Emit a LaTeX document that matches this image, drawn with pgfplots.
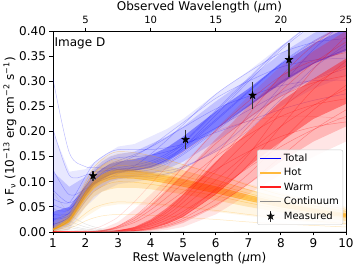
\documentclass[border=0pt]{standalone}
\usepackage{pgfplots}
\pgfplotsset{compat=1.18}
\usepackage{pgfplotstable}
\usepackage{fontspec}
\setmainfont{DejaVu Sans}

\pgfdeclareplotmark{fivestar}{%
 \pgfpathmoveto{\pgfqpoint{0pt}{\pgfplotmarksize}}%
 \pgfpathlineto{\pgfqpoint{-0.2245\pgfplotmarksize}{0.309\pgfplotmarksize}}%
 \pgfpathlineto{\pgfqpoint{-0.951\pgfplotmarksize}{0.309\pgfplotmarksize}}%
 \pgfpathlineto{\pgfqpoint{-0.363\pgfplotmarksize}{-0.118\pgfplotmarksize}}%
 \pgfpathlineto{\pgfqpoint{-0.588\pgfplotmarksize}{-0.809\pgfplotmarksize}}%
 \pgfpathlineto{\pgfqpoint{0pt}{-0.382\pgfplotmarksize}}%
 \pgfpathlineto{\pgfqpoint{0.588\pgfplotmarksize}{-0.809\pgfplotmarksize}}%
 \pgfpathlineto{\pgfqpoint{0.363\pgfplotmarksize}{-0.118\pgfplotmarksize}}%
 \pgfpathlineto{\pgfqpoint{0.951\pgfplotmarksize}{0.309\pgfplotmarksize}}%
 \pgfpathlineto{\pgfqpoint{0.2245\pgfplotmarksize}{0.309\pgfplotmarksize}}%
 \pgfpathclose\pgfusepathqfillstroke}

% Hot dust component (orange)
\pgfplotstableread{
x    h1    h2    h3    h4    h5    h6    h7    h8    h9    h10   h11
1    .004  .004  .005  .005  .005  .005  .005  .006  .006  .002  .001
1.5  .020  .022  .023  .023  .024  .025  .026  .029  .032  .012  .007
2    .062  .067  .070  .073  .075  .078  .082  .090  .099  .037  .022
2.25 .080  .086  .090  .094  .097  .100  .106  .116  .128  .048  .028
2.5  .090  .097  .102  .105  .109  .113  .119  .131  .144  .054  .032
2.75 .097  .105  .110  .113  .117  .121  .128  .141  .155  .058  .034
3    .100  .108  .113  .117  .121  .125  .132  .145  .160  .060  .035
3.5  .099  .107  .112  .116  .120  .124  .131  .144  .158  .059  .035
4    .095  .103  .107  .111  .115  .119  .125  .138  .152  .057  .033
4.5  .090  .097  .102  .105  .109  .113  .119  .131  .144  .054  .032
5    .084  .091  .095  .098  .102  .105  .111  .122  .134  .050  .029
6    .072  .078  .081  .084  .087  .090  .095  .104  .115  .043  .025
7    .058  .063  .066  .068  .070  .073  .077  .084  .093  .035  .020
8    .046  .050  .052  .054  .056  .058  .061  .067  .074  .028  .016
9    .036  .039  .041  .042  .044  .045  .048  .052  .058  .022  .013
10   .028  .030  .032  .033  .034  .035  .037  .041  .045  .017  .010
}\hot

% Warm dust component (red)
\pgfplotstableread{
x    w1   w2   w3   w4   w5   w6   w7   w8   w9   w10  w11  w12  w13  w14
1    0    0    0    0    0    0    0    0    0    0    0    0    0    0
1.5  0    0    0    0    0    0    0    0    0    0    0    0    0    0
2    0    0    0    0    0    0    0    0    0    0    0    0    0    .003
2.25 0    0    0    0    0    0    0    0    .001 .001 .001 .001 0    .006
2.5  .001 .001 0    0    0    0    0    0    .003 .002 .003 .002 .001 .012
2.75 .001 .001 .001 .001 0    0    0    0    .005 .005 .006 .004 .002 .020
3    .003 .003 .002 .002 .001 .001 .001 .001 .011 .009 .012 .008 .003 .030
3.5  .008 .007 .006 .005 .003 .003 .002 .002 .027 .023 .031 .019 .009 .060
4    .020 .017 .015 .012 .008 .007 .006 .005 .051 .044 .059 .036 .022 .095
4.5  .039 .034 .029 .024 .019 .017 .014 .012 .081 .069 .093 .057 .043 .130
5    .067 .059 .050 .041 .036 .032 .027 .023 .113 .097 .130 .080 .074 .160
6    .137 .120 .103 .083 .086 .076 .065 .054 .176 .150 .202 .124 .152 .200
7    .210 .184 .158 .128 .154 .134 .115 .096 .227 .193 .260 .160 .233 .220
8    .280 .245 .210 .170 .240 .210 .180 .150 .270 .230 .310 .190 .310 .230
9    .336 .294 .252 .204 .324 .284 .243 .203 .297 .253 .341 .209 .372 .230
10   .378 .331 .284 .230 .389 .340 .292 .243 .311 .265 .357 .219 .419 .225
}\warm

% Total (blue)
\pgfplotstableread{
x    b1   b2   b3   b4   b5   b6   b7   b8   b9   b10  b11  b12  b13  b14
1    .035 .025 .055 .015 .084 .045 .124 .026 .205 .005 .066 .305 .005 .015
1.5  .037 .033 .046 .030 .058 .044 .074 .038 .113 .024 .059 .158 .023 .030
2    .079 .079 .080 .080 .083 .090 .086 .094 .113 .075 .111 .130 .073 .080
2.25 .098 .100 .097 .102 .096 .112 .097 .119 .120 .097 .136 .129 .094 .101
2.5  .108 .112 .107 .117 .103 .124 .103 .133 .121 .110 .149 .127 .106 .114
2.75 .116 .120 .114 .127 .109 .135 .109 .143 .123 .118 .159 .127 .114 .123
3    .121 .125 .118 .136 .111 .142 .116 .148 .124 .124 .164 .125 .120 .128
3.5  .124 .129 .120 .151 .111 .154 .131 .150 .121 .128 .164 .124 .123 .133
4    .131 .137 .124 .170 .111 .169 .155 .153 .119 .135 .164 .130 .128 .141
4.5  .144 .152 .136 .194 .116 .188 .183 .160 .122 .148 .168 .145 .139 .156
5    .165 .176 .154 .218 .127 .208 .214 .172 .130 .169 .175 .169 .157 .179
6    .221 .239 .201 .266 .164 .245 .274 .207 .160 .224 .198 .233 .204 .242
7    .278 .303 .250 .300 .217 .270 .318 .242 .202 .280 .221 .299 .252 .306
8    .334 .366 .297 .328 .290 .291 .356 .277 .264 .336 .244 .362 .299 .368
9    .378 .416 .335 .342 .363 .301 .377 .304 .326 .380 .262 .413 .336 .417
10   .411 .453 .363 .346 .419 .302 .385 .325 .373 .412 .275 .451 .364 .454
}\total

% Continuum (gray)
\pgfplotstableread{
x    c1    c2    c3    c4    c5    c6
1    .005  .010  .020  .030  .050  .080
1.5  .0023 .0045 .009  .0135 .0225 .036
2    .001  .002  .004  .006  .010  .016
2.5  .0004 .0008 .0016 .0024 .004  .0064
3    .0002 .0003 .0006 .0009 .0015 .0024
3.5  .0001 .0001 .0002 .0003 .0005 .0008
4    0     0     .0001 .0001 .0002 .0003
5    0     0     0     0     0     0
7    0     0     0     0     0     0
10   0     0     0     0     0     0
}\cont

\definecolor{mplorange}{RGB}{255,165,0}
\definecolor{mplgray}{RGB}{150,150,150}
\definecolor{legorange}{RGB}{255,185,60}
\definecolor{legred}{RGB}{255,30,30}
\definecolor{leggray}{RGB}{140,140,140}

\begin{document}
\begin{tikzpicture}
\path[use as bounding box] (-53pt,-36pt) rectangle (304pt,232pt);
\begin{axis}[
  at={(0,0)}, anchor=south west,
  scale only axis, width=293pt, height=201pt,
  xmin=1, xmax=10, ymin=0, ymax=0.40,
  xtick={1,2,3,4,5,6,7,8,9,10},
  ytick={0,0.05,0.10,0.15,0.20,0.25,0.30,0.35,0.40},
  yticklabel style={/pgf/number format/.cd, fixed, fixed zerofill, precision=2},
  /pgf/number format/assume math mode=true,
  xtick pos=bottom, ytick pos=left,
  tick align=outside,
  major tick length=3.5pt,
  tick style={black, line width=0.8pt},
  axis line style={line width=0.8pt},
  ticklabel style={font=\fontsize{12}{14}\selectfont},
  label style={font=\fontsize{12}{14}\selectfont},
  xlabel={Rest Wavelength ({\itshape μ}m)},
  ylabel={ν F\textsubscript{ν} (10\textsuperscript{−13} erg cm\textsuperscript{−2} s\textsuperscript{−1})},
  xlabel style={at={(axis description cs:0.5,-0.13)}, anchor=center},
  ylabel style={at={(axis description cs:-0.147,0.5)}, anchor=center},
  legend style={at={(rel axis cs:0.99,0.035)}, anchor=south east,
    draw=black!20, rounded corners=2pt, fill=white, fill opacity=0.85, text opacity=1,
    font=\fontsize{10}{12}\selectfont, row sep=1.5pt, inner sep=2pt},
  legend cell align=left,
]
% ---- Total: three nested cores of the bundle, then individual draws
\addplot[fill=blue, draw=none, fill opacity=0.09, forget plot] coordinates {
 (1,0)(1.5,.005)(2,.05)(2.5,.08)(3,.095)(3.5,.1)(4,.105)(4.5,.112)
 (5,.125)(6,.16)(7,.205)(8,.25)(9,.285)(10,.31)
 (10,.45)(9,.41)(8,.37)(7,.32)(6,.275)(5,.225)(4.5,.205)(4,.19)(3.5,.175)(3,.17)
 (2.5,.15)(2,.125)(1.5,.12)(1,.2)} -- cycle;
\addplot[fill=blue, draw=none, fill opacity=0.16, forget plot] coordinates {
 (1,0)(1.5,.015)(2,.06)(2.25,.08)(2.5,.09)(2.75,.1)(3,.105)(3.5,.11)(4,.115)(4.5,.125)
 (5,.14)(6,.18)(7,.225)(8,.27)(9,.305)(10,.33)
 (10,.43)(9,.395)(8,.355)(7,.305)(6,.26)(5,.21)(4.5,.19)(4,.175)(3.5,.16)(3,.155)
 (2.75,.15)(2.5,.14)(2.25,.125)(2,.11)(1.5,.09)(1,.12)} -- cycle;
\addplot[fill=blue, draw=none, fill opacity=0.36, forget plot] coordinates {
 (1,.005)(1.5,.025)(2,.072)(2.25,.092)(2.5,.104)(2.75,.113)(3,.118)(3.5,.122)(4,.128)(4.5,.14)
 (5,.16)(6,.205)(7,.25)(8,.295)(9,.335)(10,.36)
 (10,.405)(9,.375)(8,.335)(7,.285)(6,.24)(5,.19)(4.5,.168)(4,.153)(3.5,.145)(3,.14)
 (2.75,.135)(2.5,.126)(2.25,.112)(2,.092)(1.5,.05)(1,.04)} -- cycle;
\foreach \c in {b1,b2,b3,b4,b5,b6,b7,b8,b9,b10,b11,b12,b13,b14}{
  \addplot[blue, line width=0.5pt, opacity=0.25, smooth, forget plot] table[x=x, y=\c] {\total};
}
% ---- Hot
\addplot[fill=mplorange, draw=none, fill opacity=0.1, forget plot] coordinates {
 (1,0)(1.5,.005)(2,.03)(2.5,.05)(3,.055)(3.5,.055)(4,.053)(5,.047)(6,.04)(7,.032)(8,.025)(9,.019)(10,.014)
 (10,.05)(9,.063)(8,.078)(7,.096)(6,.116)(5,.135)(4,.152)(3.5,.157)(3,.158)(2.5,.145)(2,.105)(1.5,.045)(1,.02)} -- cycle;
\addplot[fill=mplorange, draw=none, fill opacity=0.22, forget plot] coordinates {
 (1,0)(1.5,.012)(2,.05)(2.25,.07)(2.5,.08)(2.75,.085)(3,.088)(3.5,.088)(4,.085)(4.5,.08)
 (5,.075)(6,.063)(7,.05)(8,.039)(9,.03)(10,.022)
 (10,.043)(9,.054)(8,.068)(7,.085)(6,.104)(5,.121)(4.5,.13)(4,.137)(3.5,.142)(3,.143)
 (2.75,.14)(2.5,.132)(2.25,.118)(2,.095)(1.5,.036)(1,.012)} -- cycle;
\addplot[fill=mplorange, draw=none, fill opacity=0.45, forget plot] coordinates {
 (1,.003)(1.5,.019)(2,.067)(2.25,.087)(2.5,.098)(2.75,.104)(3,.107)(3.5,.106)(4,.102)(4.5,.097)
 (5,.09)(6,.077)(7,.062)(8,.049)(9,.038)(10,.029)
 (10,.037)(9,.047)(8,.059)(7,.074)(6,.091)(5,.105)(4.5,.112)(4,.118)(3.5,.123)(3,.124)
 (2.75,.121)(2.5,.114)(2.25,.102)(2,.082)(1.5,.028)(1,.007)} -- cycle;
\foreach \c in {h1,h2,h3,h4,h5,h6,h7,h8,h9}{
  \addplot[mplorange, line width=0.5pt, opacity=0.35, smooth, forget plot] table[x=x, y=\c] {\hot};
}
\foreach \c in {h10,h11}{
  \addplot[mplorange, line width=0.5pt, opacity=0.25, smooth, forget plot] table[x=x, y=\c] {\hot};
}
% ---- Warm
\addplot[fill=red, draw=none, fill opacity=0.1, forget plot] coordinates {
 (2,0)(3,0)(3.5,0)(4,.001)(4.5,.004)(5,.01)(6,.035)(7,.075)(8,.115)(9,.15)(10,.18)
 (10,.42)(9,.38)(8,.33)(7,.27)(6,.205)(5,.135)(4.5,.105)(4,.075)(3.5,.045)(3,.02)(2.5,.006)(2,0)} -- cycle;
\addplot[fill=red, draw=none, fill opacity=0.2, forget plot] coordinates {
 (2,0)(2.5,0)(3,0)(3.5,.001)(4,.003)(4.5,.008)(5,.018)(6,.05)(7,.095)(8,.14)(9,.18)(10,.21)
 (10,.40)(9,.36)(8,.31)(7,.25)(6,.185)(5,.115)(4.5,.085)(4,.055)(3.5,.03)(3,.012)(2.5,.003)(2,0)} -- cycle;
\addplot[fill=red, draw=none, fill opacity=0.38, forget plot] coordinates {
 (2.75,0)(3,0)(3.5,.002)(4,.007)(4.5,.016)(5,.03)(6,.075)(7,.13)(8,.18)(9,.225)(10,.255)
 (10,.345)(9,.305)(8,.26)(7,.2)(6,.14)(5,.075)(4.5,.048)(4,.025)(3.5,.01)(3,.003)(2.75,.001)} -- cycle;
\foreach \c in {w1,w2,w3,w4,w5,w6,w7,w8,w9,w10,w11,w12,w13}{
  \addplot[red, line width=0.5pt, opacity=0.3, smooth, forget plot] table[x=x, y=\c] {\warm};
}
\addplot[red, line width=0.5pt, opacity=0.15, smooth, forget plot] table[x=x, y=w14] {\warm};
% ---- Continuum
\foreach \c in {c1,c2,c3,c4,c5,c6}{
  \addplot[mplgray, line width=0.5pt, opacity=0.25, smooth, forget plot] table[x=x, y=\c] {\cont};
}
% ---- Measured
\addplot[only marks, mark=fivestar, mark size=4pt, black, forget plot,
  error bars/.cd, y dir=both, y explicit, error mark=none,
  error bar style={line width=1.1pt, black!80}]
  coordinates {(2.23,0.112) +- (0,0.010) (5.07,0.184) +- (0,0.018)
               (7.13,0.272) +- (0,0.027) (8.25,0.343) +- (0,0.034)};
\node[anchor=north west, font=\fontsize{12}{14}\selectfont, inner sep=0pt]
  at (rel axis cs:0.005,0.965) {Image D};
% ---- Legend
\addlegendimage{legend image code/.code={\draw[draw=blue, line width=1.6pt] (0pt,0pt) -- (21pt,0pt);}}
\addlegendentry{Total}
\addlegendimage{legend image code/.code={\draw[draw=legorange, line width=1.6pt] (0pt,0pt) -- (21pt,0pt);}}
\addlegendentry{Hot}
\addlegendimage{legend image code/.code={\draw[draw=legred, line width=1.6pt] (0pt,0pt) -- (21pt,0pt);}}
\addlegendentry{Warm}
\addlegendimage{legend image code/.code={\draw[draw=leggray, line width=1.6pt] (0pt,0pt) -- (21pt,0pt);}}
\addlegendentry{Continuum}
\addlegendimage{legend image code/.code={%
  \draw[black!80, line width=1pt] (10.5pt,-5.5pt) -- (10.5pt,5.5pt);
  \draw[black, fill=black] plot[mark=fivestar, mark size=3.8pt] coordinates {(10.5pt,0pt)};}}
\addlegendentry{Measured}
\end{axis}
\begin{axis}[
  at={(0,0)}, anchor=south west,
  scale only axis, width=293pt, height=201pt,
  xmin=2.5, xmax=25, ymin=0, ymax=0.4,
  axis x line*=top, axis y line=none,
  xtick={5,10,15,20,25},
  /pgf/number format/assume math mode=true,
  tick align=outside, major tick length=3.5pt,
  tick style={black, line width=0.8pt},
  axis line style={line width=0.8pt},
  ticklabel style={font=\fontsize{10}{12}\selectfont},
  xlabel={Observed Wavelength ({\itshape μ}m)},
  label style={font=\fontsize{12}{14}\selectfont},
  xlabel style={at={(axis description cs:0.5,1.12)}, anchor=center},
]
\end{axis}
\end{tikzpicture}
\end{document}
